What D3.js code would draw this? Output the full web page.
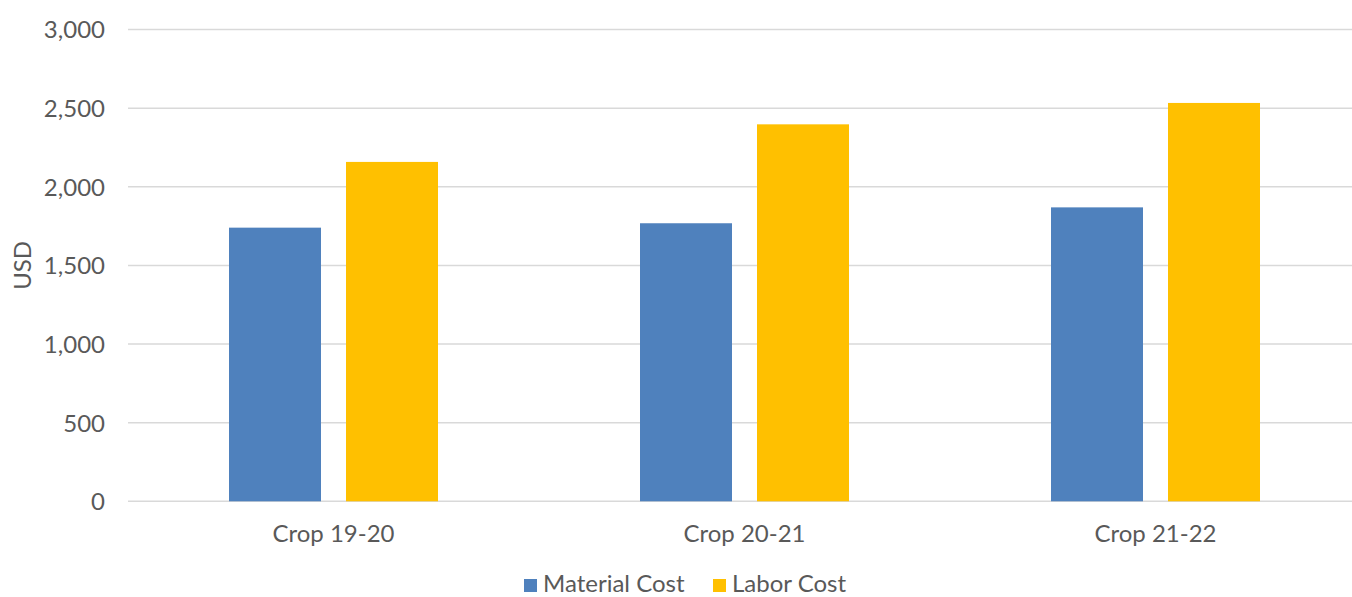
<!DOCTYPE html>
<html><head><meta charset="utf-8">
<script src="https://cdn.jsdelivr.net/npm/d3@7"></script>
<style>body{margin:0;background:#fff;} text{font-family:Lato, sans-serif;fill:#595959;}</style>
</head><body><svg id="c" width="1352" height="597"></svg>
<script>
const categories = ["Crop 19-20", "Crop 20-21", "Crop 21-22"];
const seriesNames = ["Material Cost", "Labor Cost"];
const materialCost = [1740, 1768, 1869];
const laborCost = [2158, 2397, 2533];
const yTicks = [0, 500, 1000, 1500, 2000, 2500, 3000];
const colors = ["#4f81bd", "#ffc000"];

const svg = d3.select("#c");
const mLeft = 128, mRight = 1361, mTop = 29.5, mBottom = 501.3;
const fs = 24;

const y = d3.scaleLinear().domain([0, 3000]).range([mBottom, mTop]);
const x0 = d3.scaleBand().domain(categories).range([mLeft, mRight]).paddingInner(0.4915).paddingOuter(0.24575);
const x1 = d3.scaleBand().domain(seriesNames).range([0, x0.bandwidth()]).paddingInner(0.2137).paddingOuter(0);
const color = d3.scaleOrdinal().domain(seriesNames).range(colors);

// gridlines
svg.append("g").selectAll("line").data(yTicks).join("line")
  .attr("x1", mLeft).attr("x2", mRight)
  .attr("y1", d => y(d)).attr("y2", d => y(d))
  .attr("stroke", "#d9d9d9").attr("stroke-width", 1.5);

// y axis labels
const yAxis = d3.axisLeft(y).tickValues(yTicks).tickFormat(d3.format(",")).tickSize(0).tickPadding(0);
const ga = svg.append("g").attr("transform", `translate(${mLeft - 23},0)`).call(yAxis);
ga.select(".domain").remove();
ga.selectAll("text").attr("font-size", fs).attr("font-family", "Lato").attr("fill", "#595959").attr("dy", "0.35em");

// bars
const data = categories.map((c, i) => ({cat: c, vals: [
  {name: seriesNames[0], v: materialCost[i]},
  {name: seriesNames[1], v: laborCost[i]}]}));
svg.append("g").selectAll("g").data(data).join("g")
  .attr("transform", d => `translate(${x0(d.cat)},0)`)
  .selectAll("rect").data(d => d.vals).join("rect")
  .attr("x", d => x1(d.name)).attr("width", x1.bandwidth())
  .attr("y", d => y(d.v)).attr("height", d => y(0) - y(d.v))
  .attr("fill", d => color(d.name));

// x axis labels
const xAxis = d3.axisBottom(x0).tickSize(0).tickPadding(0);
const gx = svg.append("g").attr("transform", `translate(0,${mBottom})`).call(xAxis);
gx.select(".domain").remove();
gx.selectAll("text").attr("font-size", fs).attr("font-family", "Lato").attr("fill", "#595959").attr("dy", null).attr("y", 41);

// y title
svg.append("text").attr("transform", `translate(31,${(mTop + mBottom) / 2}) rotate(-90)`)
  .attr("text-anchor", "middle").attr("font-size", fs).text("USD");

// legend
const legend = svg.append("g");
const lx = [524, 713];
seriesNames.forEach((n, i) => {
  legend.append("rect").attr("x", lx[i]).attr("y", 579).attr("width", 13).attr("height", 13).attr("fill", colors[i]);
  legend.append("text").attr("x", lx[i] + 19).attr("y", 592).attr("font-size", fs).text(n);
});
</script></body></html>
